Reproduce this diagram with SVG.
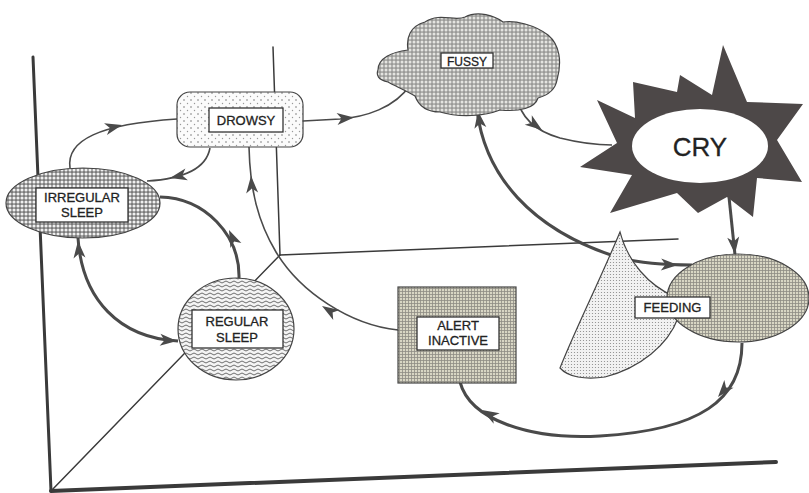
<svg xmlns="http://www.w3.org/2000/svg" xmlns:xlink="http://www.w3.org/1999/xlink" width="809" height="493" viewBox="0 0 809 493">
<style>
.ax{fill:none;stroke:#3a3a3a;stroke-linecap:round}
.c{fill:none;stroke:#4a4a4a;stroke-width:1.6}
.t{fill:none;stroke:#4a4a4a;stroke-width:3}
.nd{stroke:#444;stroke-width:1.2}
.lb{fill:#fff;stroke:#333;stroke-width:1.3}
.tx{font-family:"Liberation Sans",Arial,sans-serif;fill:#222;stroke:#222;stroke-width:0.3;text-anchor:middle}
.ah{fill:#4a4a4a}
</style>
<defs>
<pattern id="pDrowsy" width="7" height="7" patternUnits="userSpaceOnUse">
<rect width="7" height="7" fill="#fbfbfb"/><circle cx="2" cy="2" r="0.8" fill="#777"/><circle cx="5.5" cy="5.5" r="0.7" fill="#999"/>
</pattern>
<pattern id="pIrr" width="4" height="4" patternUnits="userSpaceOnUse">
<rect width="4" height="4" fill="#7a7a7a"/><circle cx="2" cy="2" r="1.55" fill="#f0f0f0"/>
</pattern>
<pattern id="pWave" width="8" height="4" patternUnits="userSpaceOnUse">
<rect width="8" height="4" fill="#f4f4f4"/><path d="M0,2 Q2,0 4,2 T8,2" fill="none" stroke="#5e5e5e" stroke-width="0.9"/>
</pattern>
<pattern id="pGrid" width="3" height="3" patternUnits="userSpaceOnUse">
<rect width="3" height="3" fill="#d8d6c4"/><path d="M0,0.5H3M0.5,0V3" stroke="#8e8c84" stroke-width="0.8"/>
</pattern>
<pattern id="pFussy" width="4" height="4" patternUnits="userSpaceOnUse">
<rect width="4" height="4" fill="#9a9a98"/><circle cx="2" cy="2" r="1.5" fill="#e4e4e0"/>
</pattern>
<pattern id="pFine" width="3" height="3" patternUnits="userSpaceOnUse">
<rect width="3" height="3" fill="#f2f2f2"/><circle cx="1.5" cy="1.5" r="0.6" fill="#888"/>
</pattern>
<path id="ah" d="M0,0 L-17,-6 L-12.5,0 L-17,6 Z"/>
</defs>

<g id="axes">
<path class="ax" d="M33,57 L51,491" stroke-width="3"/>
<path class="ax" d="M51,491 L776,462" stroke-width="4"/>
<path class="ax" d="M51,491 L280,255" stroke-width="1.5"/>
<path class="ax" d="M273,47 L280,255" stroke-width="1.5"/>
<path class="ax" d="M280,255 L678,239" stroke-width="1.5"/>
</g>

<g id="connectors">
<path class="c" d="M70,168 C66,140 100,124 177,119"/>
<use href="#ah" class="ah" transform="translate(122,125) rotate(-14)"/>
<path class="c" d="M210,148 C206,170 182,179 147,181"/>
<use href="#ah" class="ah" transform="translate(170,178) rotate(168)"/>
<path class="t" d="M239,278 C240,235 205,198 160,197"/>
<use href="#ah" class="ah" transform="translate(229,230) rotate(-114)"/>
<path class="t" d="M78,238 C82,300 120,338 178,341"/>
<use href="#ah" class="ah" transform="translate(78,241) rotate(-95)"/>
<use href="#ah" class="ah" transform="translate(177,341) rotate(4)"/>
<path class="c" d="M398,330 C350,325 300,292 276,252 C258,222 250,190 249,147" stroke-width="2"/>
<use href="#ah" class="ah" transform="translate(322,306) rotate(-148)"/>
<use href="#ah" class="ah" transform="translate(251,176) rotate(-94)"/>
<path class="c" d="M303,121 L340,119 C365,117 395,108 410,85"/>
<use href="#ah" class="ah" transform="translate(354,117.5) rotate(-5)"/>
<path class="c" d="M517,97 C520,115 532,130 560,138 C580,143 600,145 612,145"/>
<use href="#ah" class="ah" transform="translate(542,130) rotate(36)"/>
<path class="t" d="M477,110 C485,175 530,230 620,258 C640,263 665,265 692,265"/>
<use href="#ah" class="ah" transform="translate(478,111) rotate(-98)"/>
<use href="#ah" class="ah" transform="translate(678,265) rotate(2)"/>
<path class="t" d="M729,197 L735,255"/>
<use href="#ah" class="ah" transform="translate(735,254) rotate(84)"/>
<path class="t" d="M742,343 C742,400 700,430 600,436 C530,440 470,420 460,382"/>
<use href="#ah" class="ah" transform="translate(718,397) rotate(130)"/>
<use href="#ah" class="ah" transform="translate(482,410) rotate(-150)"/>
</g>

<g id="drowsy">
<rect class="nd" x="177" y="92" width="126" height="55" rx="13" fill="url(#pDrowsy)"/>
<rect class="lb" x="209" y="108" width="74" height="24"/>
<text class="tx" x="246" y="125" font-size="13">DROWSY</text>
</g>

<g id="irregular-sleep">
<ellipse class="nd" cx="83" cy="203" rx="77" ry="35" fill="url(#pIrr)"/>
<rect class="lb" x="36" y="188" width="92" height="34"/>
<text class="tx" x="82" y="202" font-size="13">IRREGULAR</text>
<text class="tx" x="82" y="217" font-size="13">SLEEP</text>
</g>

<g id="regular-sleep">
<ellipse class="nd" cx="236" cy="329" rx="58" ry="51" fill="url(#pWave)"/>
<rect class="lb" x="192" y="310" width="91" height="38"/>
<text class="tx" x="237" y="326" font-size="13">REGULAR</text>
<text class="tx" x="237" y="342" font-size="13">SLEEP</text>
</g>

<g id="alert-inactive">
<rect class="nd" x="398" y="287" width="118" height="96" fill="url(#pGrid)"/>
<rect class="lb" x="417" y="317" width="82" height="33"/>
<text class="tx" x="458" y="330" font-size="13">ALERT</text>
<text class="tx" x="458" y="345" font-size="13">INACTIVE</text>
</g>

<g id="fussy">
<path class="nd" fill="url(#pFussy)" d="M378,70 C378,58 392,52 408,50 C406,38 410,26 425,22 C440,12 455,22 465,17 C478,10 495,16 503,22 C515,20 535,25 548,35 C560,45 562,62 557,80 C555,92 545,96 538,98 C535,108 520,112 500,110 C485,116 460,118 440,112 C425,112 418,104 415,96 C405,90 395,86 388,82 C378,80 376,75 378,70 Z"/>
<rect class="lb" x="441" y="53" width="52" height="15"/>
<text class="tx" x="467" y="65.5" font-size="12">FUSSY</text>
</g>

<g id="cry">
<polygon fill="#4d4848" points="723,45 747,102 803,104 777,140 802,182 757,178 753,217 727,197 698,213 677,193 610,213 632,175 580,167 617,143 597,100 635,118 633,82 677,92 680,75 712,95"/>
<ellipse cx="700" cy="146" rx="68" ry="37" fill="#fff"/>
<text class="tx" x="700" y="156" font-size="26" stroke-width="0">CRY</text>
</g>

<g id="feeding">
<path class="nd" fill="url(#pFine)" stroke-width="0.8" d="M620,232 C628,262 648,285 675,297 L678,318 C668,345 640,368 605,377 C585,380 568,377 560,368 C575,330 600,280 620,232 Z"/>
<ellipse class="nd" cx="738" cy="298" rx="71" ry="44" fill="url(#pGrid)"/>
<rect class="lb" x="635" y="297" width="75" height="21"/>
<text class="tx" x="672.5" y="312" font-size="13">FEEDING</text>
</g>
</svg>
